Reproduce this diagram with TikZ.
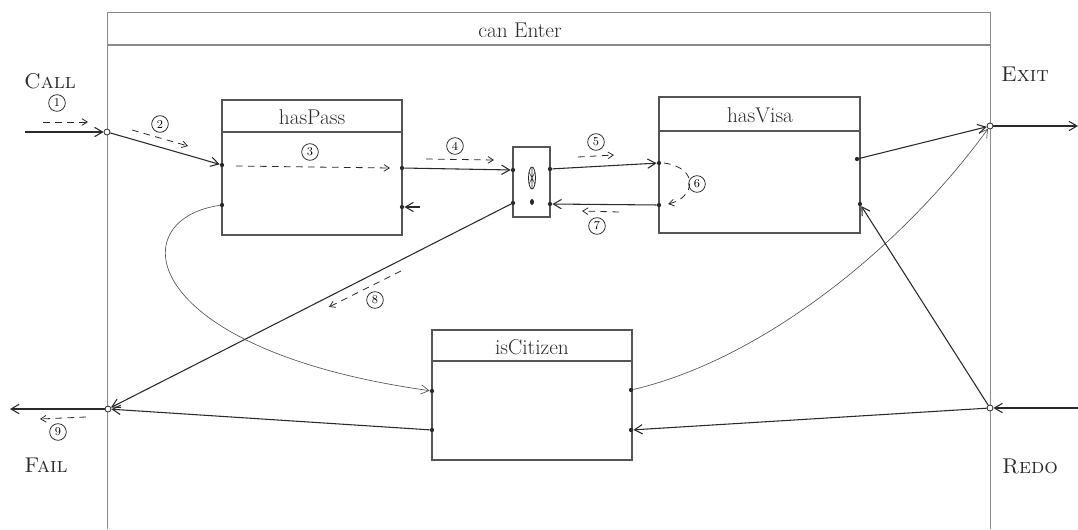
\documentclass[tikz,border=0pt]{standalone}
\usetikzlibrary{arrows.meta,calc}
\definecolor{frame}{HTML}{8A8A8A}
\definecolor{ink}{HTML}{2A2A2A}
\tikzset{
  boxline/.style={draw=ink!80, line width=0.9pt},
  frameline/.style={draw=frame, line width=0.6pt},
  port/.style={circle, fill=ink, inner sep=0pt, minimum size=3.2pt},
  mainport/.style={circle, draw=ink, fill=white, line width=0.6pt, inner sep=0pt, minimum size=4.5pt},
  flow/.style={draw=ink, line width=0.8pt, -{Straight Barb[length=6pt,width=7pt]}},
  thinflow/.style={draw=ink!80, line width=0.5pt, -{Straight Barb[length=6pt,width=7pt]}},
  dashflow/.style={draw=ink, line width=0.6pt, dash pattern=on 5pt off 4pt, -{Straight Barb[length=4pt,width=5pt]}},
  num/.style={circle, draw=ink, line width=0.6pt, inner sep=0.6pt, minimum size=12.5pt, font=\small},
  title/.style={font=\fontsize{16}{18}\selectfont, text=ink},
  lbl/.style={font=\fontsize{16}{18}\selectfont, text=ink}
}
\begin{document}
\begin{tikzpicture}[x=0.75pt,y=-0.75pt]
\useasboundingbox (0,0) rectangle (1078,529);
% outer frame
\draw[frameline] (107,529) -- (107,12) -- (990,12) -- (990,529);
\draw[frameline, line width=0.9pt] (107,45) -- (990,45);
\node[title] (canEnter) at (520,30) {can Enter};
% boxes
\draw[boxline] (222,100) rectangle (402,235); \draw[boxline] (222,132) -- (402,132);
\node[title] (hasPass) at (312,117) {hasPass};
\draw[boxline] (513,147) rectangle (550,217);
\draw[boxline] (659,97) rectangle (860,233); \draw[boxline] (659,131) -- (860,131);
\node[title] (hasVisa) at (760,115) {hasVisa};
\draw[boxline] (432,330) rectangle (632,460); \draw[boxline] (432,361) -- (632,361);
\node[title] (isCitizen) at (532,347) {isCitizen};
% glyph in small box
\draw[ink, line width=0.6pt] (532,178) ellipse (3.5 and 11);
\draw[ink, line width=0.4pt] (529,172) -- (535,184) (529,184) -- (535,172) (532,168) -- (532,188);
\fill[ink] (532,202) ellipse (2 and 3);
% main ports
\node[mainport] (call) at (107,132) {};
\node[mainport] (fail) at (108,409) {};
\node[mainport] (exit) at (990,126) {};
\node[mainport] (redo) at (990,408) {};
\coordinate (callsrc) at (25,132);
\coordinate (failend) at (10,409);
\coordinate (exitend) at (1078,126);
\coordinate (redosrc) at (1078,408);
\coordinate (hpRedoSrc) at (420,207);
% box ports
\node[port] (hpIn) at (222,165) {};
\node[port] (hpFail) at (222,205) {};
\node[port] (hpExit) at (402,168) {};
\node[port] (hpRedo) at (402,207) {};
\node[port] (bIn) at (513,170) {};
\node[port] (bFail) at (513,203) {};
\node[port] (bExit) at (550,169) {};
\node[port] (bRedo) at (550,204) {};
\node[port] (hvIn) at (659,163) {};
\node[port] (hvFail) at (659,205) {};
\node[port] (hvExit) at (857,159) {};
\node[port] (hvRedo) at (860,204) {};
\node[port] (icIn) at (432,391) {};
\node[port] (icFail) at (432,430) {};
\node[port] (icExit) at (631,390) {};
\node[port] (icRedo) at (631,430) {};
% connectors
\draw[flow] (callsrc) -- (call);
\draw[flow] (call) -- (hpIn);
\draw[flow] (hpExit) -- (bIn);
\draw[flow] (bExit) -- (hvIn);
\draw[flow] (hvFail) -- (bRedo);
\draw[flow] (bFail) -- (fail);
\draw[flow] (hpRedoSrc) -- (hpRedo);
\draw[thinflow] (hpFail) .. controls (120,220) and (140,350) .. (icIn);
\draw[flow] (icFail) -- (fail);
\draw[thinflow] (icExit) .. controls (760,360) and (900,250) .. (exit);
\draw[flow] (redo) -- (icRedo);
\draw[flow] (redo) -- (hvRedo);
\draw[flow] (hvExit) -- (exit);
\draw[flow] (exit) -- (exitend);
\draw[flow] (redosrc) -- (redo);
\draw[flow] (fail) -- (failend);
% dashed flow annotations
\coordinate (d1a) at (43,122); \coordinate (d1b) at (88,122);
\draw[dashflow] (d1a) -- (d1b); \node[num] (n1) at (57,103) {1};
\coordinate (d2a) at (132,130); \coordinate (d2b) at (188,146);
\draw[dashflow] (d2a) -- (d2b); \node[num] (n2) at (160,124) {2};
\coordinate (d3a) at (236,166); \coordinate (d3b) at (390,168);
\draw[dashflow] (d3a) -- (d3b); \node[num] (n3) at (310,152) {3};
\coordinate (d4a) at (426,159); \coordinate (d4b) at (494,160);
\draw[dashflow] (d4a) -- (d4b); \node[num] (n4) at (455,146) {4};
\coordinate (d5a) at (578,157); \coordinate (d5b) at (614,155);
\draw[dashflow] (d5a) -- (d5b); \node[num] (n5) at (596,142) {5};
\coordinate (d6a) at (664,163); \coordinate (d6b) at (668,204);
\draw[dashflow] (d6a) .. controls (700,168) and (695,198) .. (d6b); \node[num] (n6) at (697,184) {6};
\coordinate (d7a) at (619,212); \coordinate (d7b) at (582,211);
\draw[dashflow] (d7a) -- (d7b); \node[num] (n7) at (597,226) {7};
\coordinate (d8a) at (401,271); \coordinate (d8b) at (329,307);
\draw[dashflow] (d8a) -- (d8b); \node[num] (n8) at (375,300) {8};
\coordinate (d9a) at (86,417); \coordinate (d9b) at (40,419);
\draw[dashflow] (d9a) -- (d9b); \node[num] (n9) at (58,432) {9};
% port labels
\node[lbl] (lcall) at (50,81) {\textsc{Call}};
\node[lbl] (lexit) at (1025,74) {\textsc{Exit}};
\node[lbl] (lfail) at (46,465) {\textsc{Fail}};
\node[lbl] (lredo) at (1030,466) {\textsc{Redo}};
\end{tikzpicture}
\end{document}
